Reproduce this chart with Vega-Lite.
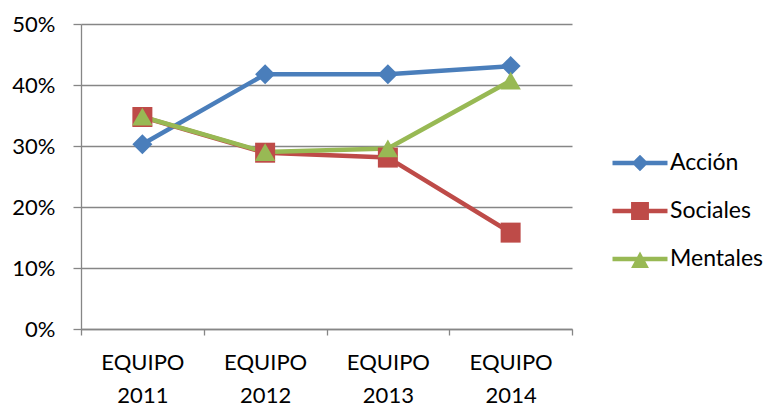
{
  "$schema": "https://vega.github.io/schema/vega-lite/v6.json",
  "width": 491,
  "height": 305,
  "autosize": {"type": "none"},
  "padding": {"left": 81, "top": 24, "right": 201, "bottom": 78},
  "background": "white",
  "config": {"view": {"stroke": null}, "font": "Lato"},
  "data": {"values": [
    {"serie": "Acción", "equipo": "EQUIPO 2011", "valor": 0.303},
    {"serie": "Acción", "equipo": "EQUIPO 2012", "valor": 0.4175},
    {"serie": "Acción", "equipo": "EQUIPO 2013", "valor": 0.4175},
    {"serie": "Acción", "equipo": "EQUIPO 2014", "valor": 0.431},
    {"serie": "Sociales", "equipo": "EQUIPO 2011", "valor": 0.3475},
    {"serie": "Sociales", "equipo": "EQUIPO 2012", "valor": 0.289},
    {"serie": "Sociales", "equipo": "EQUIPO 2013", "valor": 0.281},
    {"serie": "Sociales", "equipo": "EQUIPO 2014", "valor": 0.158},
    {"serie": "Mentales", "equipo": "EQUIPO 2011", "valor": 0.348},
    {"serie": "Mentales", "equipo": "EQUIPO 2012", "valor": 0.29},
    {"serie": "Mentales", "equipo": "EQUIPO 2013", "valor": 0.296},
    {"serie": "Mentales", "equipo": "EQUIPO 2014", "valor": 0.407}
  ]},
  "encoding": {
    "x": {
      "field": "equipo", "type": "nominal", "title": null,
      "scale": {"type": "band", "paddingInner": 0, "paddingOuter": 0},
      "axis": {
        "tickBand": "extent", "tickSize": 6, "tickColor": "#868686", "tickWidth": 1.3,
        "domainColor": "#868686", "domainWidth": 1.3,
        "labelAngle": 0, "labelExpr": "split(datum.label, ' ')",
        "labelLineHeight": 33, "labelPadding": 17,
        "labelFont": "Lato", "labelFontSize": 22, "labelColor": "#000000",
        "grid": false
      }
    },
    "y": {
      "field": "valor", "type": "quantitative", "title": null,
      "scale": {"domain": [0, 0.5], "nice": false, "zero": true},
      "axis": {
        "values": [0, 0.1, 0.2, 0.3, 0.4, 0.5], "format": ".0%",
        "grid": true, "gridColor": "#868686", "gridWidth": 1.3,
        "domainColor": "#868686", "domainWidth": 1.3,
        "tickColor": "#868686", "tickSize": 8, "tickWidth": 1.3,
        "labelPadding": 18, "labelFont": "Lato", "labelFontSize": 22, "labelColor": "#000000"
      }
    },
    "color": {
      "field": "serie", "type": "nominal",
      "scale": {"domain": ["Acción", "Sociales", "Mentales"], "range": ["#4A7EBB", "#BE4B48", "#98B954"]},
      "legend": {
        "title": null, "orient": "none", "legendX": 545, "legendY": 125,
        "symbolSize": 756, "symbolStrokeWidth": 0, "labelOffset": 16,
        "labelFont": "Lato", "labelFontSize": 23, "labelColor": "#000000",
        "rowPadding": 22,
        "encode": {
          "symbols": {
            "update": {
              "shape": {"signal": "datum.value === 'Acción' ? 'M-2,-0.16H2V0.16H-2Z M0,-0.6L0.6,0L0,0.6L-0.6,0Z' : datum.value === 'Sociales' ? 'M-2,-0.16H2V0.16H-2Z M-0.65,-0.65H0.65V0.65H-0.65Z' : 'M-2,-0.16H2V0.16H-2Z M0,-0.55L0.65,0.65H-0.65Z'"},
              "fill": {"scale": "color", "field": "value"},
              "fillOpacity": {"value": 1},
              "opacity": {"value": 1},
              "strokeWidth": {"value": 0}
            }
          }
        }
      }
    }
  },
  "layer": [
    {
      "mark": {"type": "line", "strokeWidth": 4.5, "strokeCap": "round", "strokeJoin": "round"}
    },
    {
      "transform": [{"filter": "datum.serie === 'Acción'"}],
      "mark": {"type": "point", "shape": "diamond", "filled": true, "opacity": 1, "size": 400}
    },
    {
      "transform": [{"filter": "datum.serie === 'Sociales'"}],
      "mark": {"type": "point", "shape": "square", "filled": true, "opacity": 1, "size": 400}
    },
    {
      "transform": [{"filter": "datum.serie === 'Mentales'"}],
      "mark": {"type": "point", "shape": "triangle-up", "filled": true, "opacity": 1, "size": 420}
    }
  ]
}
